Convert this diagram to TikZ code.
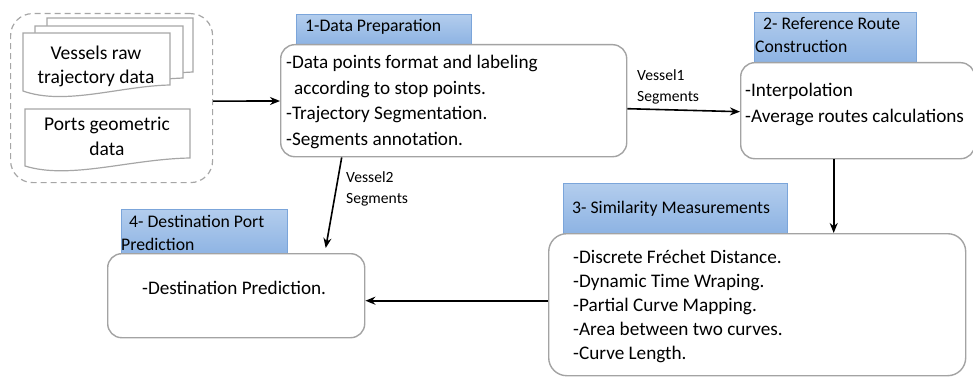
\documentclass[tikz,border=0pt]{standalone}
\usepackage{fontspec}
\setmainfont{Carlito}
\usetikzlibrary{arrows.meta}
\definecolor{boxgray}{HTML}{A3A3A3}
\definecolor{docgray}{HTML}{A6A6A6}
\definecolor{titletop}{HTML}{B3CDED}
\definecolor{titlebot}{HTML}{8DB3E3}
\definecolor{titleedge}{HTML}{7BA5DA}
\begin{document}
\begin{tikzpicture}[x=1pt,y=-1pt,
  stepbox/.style={draw=boxgray,line width=1.4pt,rounded corners=14pt,fill=white,inner sep=0pt,anchor=north west},
  titlebox/.style={draw=titleedge,line width=0.6pt,top color=titletop,bottom color=titlebot,inner sep=0pt,anchor=north west},
  body/.style={font=\fontsize{19.2}{22}\selectfont,inner sep=0pt,anchor=base west},
  doctext/.style={font=\fontsize{19.5}{22}\selectfont,inner sep=0pt,anchor=base},
  ttext/.style={font=\fontsize{17.7}{20}\selectfont,inner sep=0pt,anchor=base west},
  lbl/.style={font=\fontsize{15.6}{18}\selectfont,inner sep=0pt,anchor=base west},
  docline/.style={draw=docgray,line width=1.2pt,fill=white},
  arr/.style={draw=black,line width=1.6pt,-{Stealth[length=10pt,width=8pt]}}]
\useasboundingbox (0,0) rectangle (973,377);

% input group
\node[draw=docgray,dashed,dash pattern=on 6pt off 4pt,line width=1.2pt,rounded corners=22pt,
  minimum width=202pt,minimum height=169pt,inner sep=0pt,anchor=north west] (grp) at (10,13) {};
\path[docline] (47,18) -- (193,18) -- (193,72) .. controls (150,74) and (90,82) .. (47,76) -- cycle;
\path[docline] (35,26) -- (183,26) -- (183,78) .. controls (140,80) and (80,88) .. (35,84) -- cycle;
\path[docline] (23,33) -- (170,33) -- (170,85) .. controls (120,86) and (65,106) .. (23,91) -- cycle;
\path[docline] (25,109) -- (190,109) -- (190,158) .. controls (130,159) and (70,180) .. (25,166) -- cycle;
\node[doctext] (d1a) at (96,60) {Vessels raw};
\node[doctext] (d1b) at (96,84) {trajectory data};
\node[doctext] (d2a) at (107,130) {Ports geometric};
\node[doctext] (d2b) at (107,155) {data};

% titles
\node[titlebox,minimum width=175pt,minimum height=30pt] (t1) at (296,14) {};
\node[titlebox,minimum width=162pt,minimum height=50pt] (t2) at (754,12) {};
\node[titlebox,minimum width=224pt,minimum height=50pt] (t3) at (563,183) {};
\node[titlebox,minimum width=166pt,minimum height=46pt] (t4) at (121,209) {};

% boxes
\node[stepbox,minimum width=346pt,minimum height=112pt] (b1) at (280,44) {};
\node[stepbox,minimum width=234pt,minimum height=96pt] (b2) at (740,62) {};
\node[stepbox,minimum width=417pt,minimum height=142pt,rounded corners=18pt] (b3) at (548,233) {};
\node[stepbox,minimum width=257pt,minimum height=84pt] (b4) at (107,253) {};

% title texts
\node[ttext] (t1a) at (305,32) {1-Data Preparation};
\node[ttext] (t2a) at (763,30) {2- Reference Route};
\node[ttext] (t2b) at (755,53) {Construction};
\node[ttext] (t3a) at (572,213) {3- Similarity Measurements};
\node[ttext] (t4a) at (129,227) {4- Destination Port};
\node[ttext] (t4b) at (121,250) {Prediction};

% body texts
\node[body] (b1a) at (286,69) {-Data points format and labeling};
\node[body] (b1b) at (294,95) {according to stop points.};
\node[body] (b1c) at (286,120) {-Trajectory Segmentation.};
\node[body] (b1d) at (286,145) {-Segments annotation.};
\node[body] (b2a) at (745,97) {-Interpolation};
\node[body] (b2b) at (745,122) {-Average routes calculations};
\node[body] (b3a) at (573,263) {-Discrete Fréchet Distance.};
\node[body] (b3b) at (573,287) {-Dynamic Time Wraping.};
\node[body] (b3c) at (573,311) {-Partial Curve Mapping.};
\node[body] (b3d) at (573,335) {-Area between two curves.};
\node[body] (b3e) at (573,359) {-Curve Length.};
\node[body] (b4a) at (142,294) {-Destination Prediction.};

% connector labels
\node[lbl] (l1a) at (637,81) {Vessel1};
\node[lbl] (l1b) at (637,102) {Segments};
\node[lbl] (l2a) at (346,182) {Vessel2};
\node[lbl] (l2b) at (346,203) {Segments};

% connectors
\draw[arr] ([yshift=-3pt]grp.east) -- (b1.west |- 0,101);
\draw[arr] ([yshift=-8pt]b1.east) -- ([yshift=-1pt]b2.west);
\draw[arr] ([xshift=-24pt]b2.south) -- ([xshift=76.5pt]b3.north);
\draw[arr] ([yshift=4pt]b3.west) -- ([yshift=-5pt]b4.east);
\draw[arr] ([xshift=-112pt]b1.south) -- ([xshift=89.5pt,yshift=5pt]b4.north);
\end{tikzpicture}
\end{document}
